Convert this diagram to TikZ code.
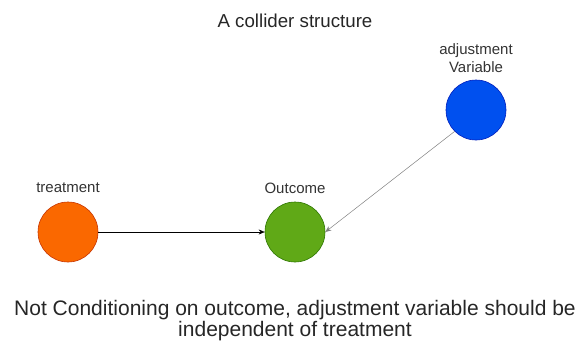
\documentclass[tikz,border=0pt]{standalone}
\usepackage{fontspec}
\setmainfont{Liberation Sans}
\usetikzlibrary{arrows.meta}
\definecolor{orangef}{HTML}{FA6800}
\definecolor{oranges}{HTML}{C73500}
\definecolor{greenf}{HTML}{60A917}
\definecolor{greens}{HTML}{2D7600}
\definecolor{bluef}{HTML}{0050EF}
\definecolor{blues}{HTML}{001DBC}
\definecolor{txt}{HTML}{333333}
\tikzset{
  var/.style={circle, minimum size=60pt, inner sep=0pt, line width=0.6pt},
  lbl/.style={font=\fontsize{15}{18}\selectfont, text=txt, inner sep=0pt, align=center},
  ttl/.style={font=\fontsize{18.7}{21}\selectfont, text=black!85, inner sep=0pt, align=center},
  big/.style={font=\fontsize{21}{21}\selectfont, text=black!85, inner sep=0pt, align=center},
  edge/.style={-{Stealth[length=6pt,width=5pt]}, line width=0.5pt}
}
\begin{document}
\begin{tikzpicture}[x=1pt,y=-1pt]
\useasboundingbox (0,0) rectangle (579,349);
\node[ttl] (title) at (295,21) {A collider structure};
\node[var, fill=orangef, draw=oranges] (t) at (68,232) {};
\node[var, fill=greenf, draw=greens] (o) at (295,232) {};
\node[var, fill=bluef, draw=blues] (a) at (476,110) {};
\node[lbl] (tl) at (68,188) {treatment};
\node[lbl] (ol) at (295,188) {Outcome};
\node[lbl] (al) at (476,58) {adjustment\\Variable};
\draw[edge, black] (t.east) -- (o.west);
\draw[edge, draw=gray] (a.225) -- (o.east);
\node[big] (note) at (295,321) {Not Conditioning on outcome, adjustment variable should be\\independent of treatment};
\end{tikzpicture}
\end{document}
